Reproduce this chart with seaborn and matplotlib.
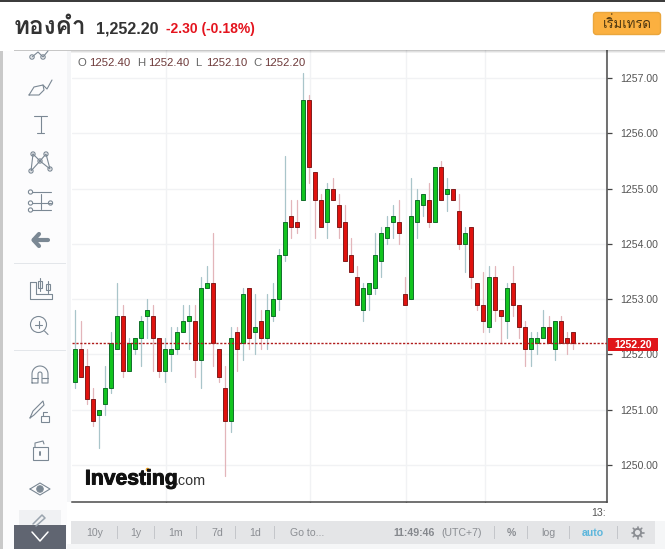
# Gold candlestick chart with the trading widget chrome around it
import matplotlib
matplotlib.use('Agg')
import matplotlib.pyplot as plt
import matplotlib.patheffects as pe
from matplotlib.patches import Circle, FancyBboxPatch, Rectangle
import numpy as np
import pandas as pd
import seaborn as sns

sns.set_theme(style='white')
plt.rcParams['font.family'] = ['Liberation Sans', 'DejaVu Sans']
THAI = ['Loma', 'Noto Sans Thai Looped', 'Noto Sans Thai', 'DejaVu Sans']

# 84 candles
opens = [1251.5, 1252.1, 1251.8, 1251.2, 1250.9, 1251.1, 1251.4, 1252.1, 1252.7, 1251.7,
         1252.1, 1252.3, 1252.7, 1252.7, 1252.3, 1251.7, 1252.0, 1252.1, 1252.4, 1252.6,
         1252.6, 1251.9, 1253.2, 1253.3, 1252.1, 1251.4, 1250.8, 1252.4, 1252.2, 1253.2,
         1252.4, 1252.6, 1252.3, 1252.7, 1253.0, 1253.8, 1254.5, 1254.4, 1254.8, 1256.6,
         1255.3, 1254.8, 1254.4, 1255.0, 1254.7, 1254.4, 1253.8, 1253.4, 1252.8, 1253.1,
         1253.2, 1253.7, 1254.1, 1254.4, 1254.4, 1253.1, 1253.0, 1254.4, 1254.7, 1254.8,
         1254.4, 1255.4, 1254.9, 1255.0, 1254.6, 1254.0, 1254.3, 1253.3, 1252.9, 1252.5,
         1253.4, 1252.8, 1252.6, 1253.3, 1252.9, 1252.5, 1252.1, 1252.2, 1252.3, 1252.5,
         1252.1, 1252.6, 1252.3, 1252.4]
closes = [1252.1, 1251.6, 1251.2, 1250.8, 1251.0, 1251.4, 1252.2, 1252.7, 1251.7, 1252.2,
          1252.3, 1252.6, 1252.8, 1252.3, 1251.7, 1252.1, 1252.1, 1252.4, 1252.6, 1252.7,
          1251.9, 1253.2, 1253.3, 1252.2, 1251.6, 1250.8, 1252.3, 1252.1, 1253.1, 1252.3,
          1252.5, 1252.3, 1252.8, 1253.0, 1253.8, 1254.4, 1254.3, 1254.3, 1256.6, 1255.4,
          1254.8, 1254.3, 1255.0, 1254.8, 1254.3, 1253.7, 1253.5, 1252.9, 1253.2, 1253.3,
          1253.8, 1254.2, 1254.3, 1254.5, 1254.2, 1252.9, 1254.5, 1254.8, 1254.9, 1254.4,
          1255.4, 1254.8, 1255.0, 1254.8, 1254.0, 1254.2, 1253.4, 1252.9, 1252.6, 1253.4,
          1252.8, 1252.7, 1253.2, 1252.9, 1252.5, 1252.1, 1252.3, 1252.3, 1252.5, 1252.2,
          1252.6, 1252.2, 1252.2, 1252.2]
highs = [1252.8, 1252.6, 1252.1, 1251.4, 1251.0, 1251.8, 1252.4, 1253.3, 1252.9, 1252.3,
         1252.3, 1252.7, 1253.0, 1252.9, 1252.3, 1252.3, 1252.5, 1252.5, 1252.9, 1252.9,
         1252.9, 1253.4, 1253.6, 1254.2, 1252.1, 1251.8, 1252.5, 1252.5, 1253.2, 1253.2,
         1253.1, 1252.8, 1253.1, 1253.3, 1253.9, 1255.6, 1254.8, 1254.8, 1257.1, 1256.7,
         1255.3, 1254.9, 1255.1, 1255.2, 1254.9, 1254.7, 1254.1, 1253.6, 1253.3, 1253.3,
         1254.2, 1254.3, 1254.5, 1254.7, 1254.8, 1253.4, 1255.2, 1255.0, 1254.9, 1255.1,
         1255.4, 1255.5, 1255.2, 1255.0, 1254.9, 1254.3, 1254.3, 1253.3, 1253.5, 1253.6,
         1253.6, 1252.8, 1253.3, 1253.6, 1252.9, 1252.6, 1252.4, 1252.4, 1252.8, 1252.7,
         1252.6, 1252.7, 1252.4, 1252.4]
lows = [1251.4, 1251.6, 1251.1, 1250.7, 1250.3, 1250.9, 1251.3, 1252.1, 1251.6, 1251.7,
        1252.0, 1251.8, 1252.3, 1251.7, 1251.6, 1251.5, 1251.7, 1252.0, 1252.4, 1252.1,
        1251.6, 1251.4, 1253.2, 1251.8, 1251.5, 1249.8, 1250.6, 1251.7, 1251.9, 1252.1,
        1252.0, 1252.1, 1252.1, 1252.6, 1252.8, 1253.7, 1254.1, 1254.2, 1254.8, 1255.1,
        1254.1, 1254.3, 1254.1, 1254.8, 1254.1, 1253.7, 1253.5, 1252.9, 1252.6, 1252.8,
        1253.1, 1253.4, 1254.0, 1254.1, 1254.0, 1252.9, 1253.0, 1254.1, 1254.5, 1254.3,
        1254.4, 1254.8, 1254.6, 1254.8, 1253.9, 1253.5, 1253.2, 1252.8, 1252.4, 1252.4,
        1252.6, 1252.2, 1252.3, 1252.7, 1252.3, 1251.8, 1251.8, 1252.0, 1252.3, 1252.2,
        1251.9, 1252.2, 1252.0, 1252.1]

price_ticks = [1250, 1251, 1252, 1253, 1254, 1255, 1256, 1257]
time_ticks = [15.15, 39.15, 55.15, 68.25, 88.4]
time_labels = ['18:00', '30', 'Jul', '08:00', '']
last_price = 1252.2

range_labels = ['10y', '1y', '1m', '7d', '1d', 'Go to...']
range_x = [95, 136, 176, 217, 255, 307]
bar_seps = [117, 154, 196, 235, 274, 494, 527, 569, 617]

W, H = 665, 549
UP, UP_EDGE, UP_WICK = '#12c41f', '#11702a', '#a9c5ca'
DOWN, DOWN_EDGE, DOWN_WICK = '#e0120e', '#821c1c', '#e3b5ba'
ICON = '#7b8894'
TEXT = '#555555'

df = pd.DataFrame({'i': np.arange(len(opens)), 'open': opens, 'close': closes,
                   'high': highs, 'low': lows})
df['top'] = df[['open', 'close']].max(axis=1)
df['bottom'] = df[['open', 'close']].min(axis=1)
df['size'] = df['top'] - df['bottom']


def px_axes(fig, x0, y0, x1, y1):
    """axes from pixel corners, y counted from the top"""
    return fig.add_axes([x0 / W, 1 - y1 / H, (x1 - x0) / W, (y1 - y0) / H])


def plot_candles(ax, part, fill, edge, wick):
    wicks = part.melt(id_vars='i', value_vars=['high', 'low'], value_name='price')
    sns.lineplot(data=wicks, x='i', y='price', units='i', estimator=None, color=wick,
                 linewidth=0.9, ax=ax, legend=False, zorder=2)
    sns.barplot(data=part, x='i', y='size', bottom=part['bottom'],
                native_scale=True, color=fill, saturation=1, width=0.66, errorbar=None,
                edgecolor=edge, linewidth=0.7, ax=ax, zorder=3)


fig = plt.figure(figsize=(W / 100, H / 100), dpi=100, facecolor='white')

# price chart
ax = px_axes(fig, 72, 50, 607, 502)
ax.set_facecolor('white')
plot_candles(ax, df[df.close >= df.open], UP, UP_EDGE, UP_WICK)
plot_candles(ax, df[df.close < df.open], DOWN, DOWN_EDGE, DOWN_WICK)
ax.axhline(last_price, color='#b01c1c', linewidth=1.0, linestyle=(0, (1.6, 1.2)), zorder=4)
ax.set_xlim(-0.55, 88.62)
ax.set_ylim(1249.33, 1257.51)
ax.yaxis.tick_right()
ax.set_yticks(price_ticks, [f'{p:.2f}' for p in price_ticks])
ax.set_xticks(time_ticks, time_labels)
ax.set_xlabel('')
ax.set_ylabel('')
ax.grid(True, color='#f1f2f4', linewidth=1.0, zorder=0)
ax.set_axisbelow(True)
ax.tick_params(axis='both', length=3.5, width=0.9, color='#444444', labelsize=7.6,
               labelcolor=TEXT, pad=6, bottom=True, right=True)
ax.get_xticklabels()[2].set_fontweight('bold')
for side in ['top', 'left']:
    ax.spines[side].set_visible(False)
for side in ['right', 'bottom']:
    ax.spines[side].set_color('#4a4a4a')
    ax.spines[side].set_linewidth(1.1)

# everything else lives on a pixel overlay
ov = fig.add_axes([0, 0, 1, 1], facecolor='none', zorder=5)
ov.set_xlim(0, W)
ov.set_ylim(H, 0)
ov.axis('off')


def box(x0, y0, x1, y1, color, **kw):
    ov.add_patch(Rectangle((x0, y0), x1 - x0, y1 - y0, facecolor=color, edgecolor='none', **kw))


def stroke(xs, ys, color=ICON, lw=0.8):
    ov.plot(xs, ys, color=color, lw=lw, solid_capstyle='round', solid_joinstyle='round')


def ring(x, y, r, color=ICON, lw=0.8, fill='none'):
    ov.add_patch(Circle((x, y), r, facecolor=fill, edgecolor=color, lw=lw))


# header
box(0, 0, W, 50, 'white')
box(0, 0, W, 2, '#3c3c3c')
for k, a in enumerate([0.22, 0.12, 0.06]):
    box(14, 50 + k, W, 51 + k, '#000000', alpha=a)
ov.text(14, 28, 'ทองคำ', family=THAI, fontsize=17.5, fontweight='bold', color='#333333', va='center')
ov.text(96, 28.5, '1,252.20', fontsize=11.6, fontweight='bold', color='#333333', va='center')
ov.text(166, 29, '-2.30 (-0.18%)', fontsize=10, fontweight='bold', color='#e4141e', va='center')
ov.add_patch(FancyBboxPatch((593.5, 12.5), 67, 22, boxstyle='round,pad=0,rounding_size=3',
                            facecolor='#fbb040', edgecolor='#eaa63d', lw=1))
ov.text(627, 24, 'เริ่มเทรด', family=THAI, fontsize=9.5, color='#4a3510', ha='center', va='center')

# OHLC strip
for x, s in zip([78, 137, 195, 253], 'OHLC'):
    ov.text(x, 63, s, fontsize=8.2, color='#666666', va='center')
for x, s in zip([89, 148, 206, 264], ['1252.40', '1252.40', '1252.10', '1252.20']):
    ov.text(x, 63, s, fontsize=8.2, color='#6e3a3a', va='center')

# last price tag
box(608, 338, 658, 351, '#e0151a')
ov.text(633, 344.5, f'{last_price:.2f}', fontsize=7.6, fontweight='bold', color='white',
        ha='center', va='center')

# logo
ov.text(85, 479, 'Investing', fontsize=15.2, fontweight='bold', color='#111111', va='center',
        path_effects=[pe.withStroke(linewidth=0.7, foreground='#111111')])
ov.text(175, 481, '.com', fontsize=10.4, color='#333333', va='center')
ov.add_patch(Circle((147.5, 469.5), 1.8, facecolor='#f5a623', edgecolor='none'))

# '13:' is clipped by the price axis
ov.text(606, 513, '13:', fontsize=7.6, color=TEXT, ha='right', va='center')

# sidebar
box(0, 51, 3, H, '#c9c9c9')
box(3, 51, 67, H, '#fcfcfd')
box(67, 51, 71, 502, '#f4f5f7')
box(14, 263, 66, 264, '#e3e6ea')
box(14, 350, 66, 351, '#e3e6ea')

# line tool, cut by the header
stroke([32, 38, 43, 48], [57, 52, 57, 51])
ring(32, 57, 2.2, fill='#fcfcfd')
ring(43, 57, 2.2, fill='#fcfcfd')
# brush
stroke([29, 34, 43, 44, 39, 29], [95, 87, 85, 90, 95, 95])
stroke([43, 47, 52], [85, 89, 80])
# text tool
stroke([34, 47], [116, 116])
stroke([40.5, 40.5], [116, 133])
stroke([37, 44], [133, 133])
# pattern tool
stroke([33, 31, 40, 46, 50, 40, 33], [154, 171, 161, 154, 169, 161, 154])
for x, y in [(33, 154), (46, 154), (40, 161), (31, 171), (50, 169)]:
    ring(x, y, 2.1, fill='#fcfcfd')
# fib tool
for y in [192, 203, 210]:
    stroke([32, 51], [y, y])
    ring(30.5, y, 2.1, fill='#fcfcfd')
ring(50.5, 203, 2.1, fill='#fcfcfd')
stroke([40.5, 40.5], [194, 209])
# back arrow
stroke([34, 48], [240, 240], lw=3)
stroke([39, 33.5, 39], [234, 240, 246], lw=3)
# candles on a ruler
stroke([30, 30, 52, 52, 36, 36, 30], [282, 299, 299, 294, 294, 282, 282])
for x, y0, y1 in [(39.5, 281, 288), (47.5, 284, 290)]:
    ov.add_patch(Rectangle((x - 2, y0), 4, y1 - y0, facecolor='none', edgecolor=ICON, lw=0.8))
    stroke([x, x], [y0 - 3, y1 + 3])
# zoom
ring(38.5, 324.5, 8)
stroke([44.5, 48], [331, 334.5])
stroke([35, 42], [324.5, 324.5])
stroke([38.5, 38.5], [321, 328])
# magnet
t = np.linspace(np.pi, 2 * np.pi, 20)
stroke(np.r_[32, 40 + 8 * np.cos(t), 48, 42, 40 + 2 * np.cos(t[::-1]), 38, 32],
       np.r_[383, 374 + 8 * np.sin(t), 383, 383, 374 + 2 * np.sin(t[::-1]), 383, 383])
stroke([32, 38], [378, 378])
stroke([42, 48], [378, 378])
# pencil and lock
stroke([30, 33, 43, 44, 34, 30], [418, 411, 401, 405, 415, 418])
ov.add_patch(Rectangle((41, 416), 8, 6, facecolor='#fcfcfd', edgecolor=ICON, lw=0.8))
stroke([43, 43, 47], [416, 412, 412])
# open lock
ov.add_patch(Rectangle((32.5, 447), 15, 13, facecolor='none', edgecolor=ICON, lw=0.8))
stroke([35, 35, 43, 44], [447, 443, 441, 444])
stroke([40, 40], [452, 455], lw=1.4)
# eye
stroke([30, 40, 50, 40, 30], [489, 483, 489, 495, 489])
ring(40, 489, 3.2, fill=ICON)
# clip button under the chevron
box(19, 510, 61, 526, '#f0f1f3')
stroke([33, 42, 45, 36], [524, 515, 518, 526], color='#9aa4ae', lw=1.1)

# bottom bar
box(71, 502.6, W, 521, 'white')
box(71, 521, 655, 544, '#e4e5e7')
box(67, 544, W, H, '#f5f6f7')
box(655, 521, W, 544, '#f5f6f7')
for x in bar_seps:
    box(x, 526, x + 1, 539, '#c4c6ca')
for x, s in zip(range_x, range_labels):
    ov.text(x, 532.5, s, fontsize=7.6, color='#8b8e93', ha='center', va='center')
ov.text(414, 532.5, '11:49:46', fontsize=7.6, fontweight='bold', color='#85888d', ha='center', va='center')
ov.text(462, 532.5, '(UTC+7)', fontsize=7.6, color='#8b8e93', ha='center', va='center')
ov.text(511, 532.5, '%', fontsize=7.6, fontweight='bold', color='#8b8e93', ha='center', va='center')
ov.text(548, 532.5, 'log', fontsize=7.6, color='#8b8e93', ha='center', va='center')
ov.text(593, 532.5, 'auto', fontsize=7.6, fontweight='bold', color='#5cb6dc', ha='center', va='center')
ring(637.5, 532.5, 3.6, color='#8b8e93', lw=1.4)
for a in np.arange(0, 2 * np.pi, np.pi / 4):
    stroke([637.5 + 4 * np.cos(a), 637.5 + 6 * np.cos(a)],
           [532.5 + 4 * np.sin(a), 532.5 + 6 * np.sin(a)], color='#8b8e93', lw=1.2)

# collapse button
box(14, 525, 66, H, '#5b606c', alpha=0.97)
stroke([32, 40, 48], [532, 541, 532], color='white', lw=1.1)

ov.set_xlim(0, W)
ov.set_ylim(H, 0)
fig.savefig('out.png', dpi=100)
